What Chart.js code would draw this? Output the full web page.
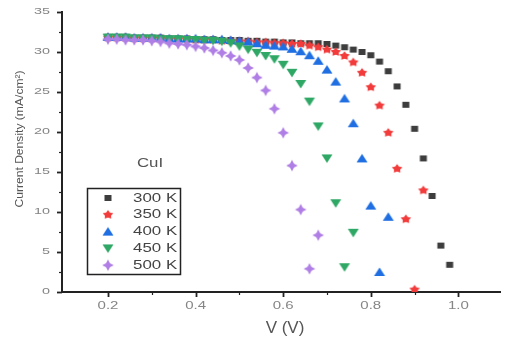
<!DOCTYPE html>
<html>
<head>
<meta charset="utf-8">
<script src="https://cdn.jsdelivr.net/npm/chart.js@4/dist/chart.umd.min.js"></script>
<style>
  html, body { margin: 0; padding: 0; background: #fff; }
  canvas { display: block; }
</style>
</head>
<body>
<canvas id="jv" width="505" height="341"></canvas>
<script>
// values
var voltage = [0.20, 0.22, 0.24, 0.26, 0.28, 0.30, 0.32, 0.34, 0.36, 0.38,
               0.40, 0.42, 0.44, 0.46, 0.48, 0.50, 0.52, 0.54, 0.56, 0.58,
               0.60, 0.62, 0.64, 0.66, 0.68, 0.70, 0.72, 0.74, 0.76, 0.78,
               0.80, 0.82, 0.84, 0.86, 0.88, 0.90, 0.92, 0.94, 0.96, 0.98];
var j300 = [31.9, 31.9, 31.9, 31.8, 31.8, 31.8, 31.8, 31.7, 31.7, 31.7,
            31.6, 31.6, 31.6, 31.5, 31.5, 31.5, 31.4, 31.4, 31.3, 31.3,
            31.2, 31.2, 31.1, 31.1, 31.1, 31.0, 30.8, 30.6, 30.3, 30.0,
            29.6, 28.8, 27.6, 25.7, 23.4, 20.4, 16.7, 12.0, 5.8, 3.4];
var j350 = [31.8, 31.8, 31.8, 31.7, 31.7, 31.7, 31.7, 31.6, 31.6, 31.6,
            31.5, 31.5, 31.5, 31.4, 31.4, 31.3, 31.3, 31.2, 31.2, 31.1,
            31.1, 31.0, 31.0, 30.8, 30.6, 30.3, 30.0, 29.5, 28.7, 27.4,
            25.6, 23.3, 19.9, 15.4, 9.1, 0.3, 12.7];
var j400 = [31.9, 31.9, 31.9, 31.8, 31.8, 31.8, 31.8, 31.7, 31.7, 31.7,
            31.7, 31.6, 31.6, 31.6, 31.5, 31.4, 31.3, 31.1, 30.9, 30.8,
            30.7, 30.4, 30.1, 29.6, 28.9, 27.8, 26.3, 24.2, 21.1, 16.7,
            10.8, 2.5, 9.4];
var j450 = [31.8, 31.8, 31.8, 31.7, 31.7, 31.7, 31.6, 31.6, 31.6, 31.5,
            31.5, 31.4, 31.4, 31.3, 31.1, 30.7, 30.3, 29.9, 29.5, 29.1,
            28.4, 27.4, 26.0, 23.8, 20.7, 16.7, 11.1, 3.1, 7.4];
var j500 = [31.6, 31.6, 31.5, 31.5, 31.5, 31.4, 31.3, 31.1, 31.0, 30.9,
            30.7, 30.5, 30.2, 29.9, 29.5, 29.0, 28.0, 26.8, 25.2, 22.9,
            19.9, 15.8, 10.3, 2.9, 7.1];
var seriesNames = ['300 K', '350 K', '400 K', '450 K', '500 K'];
var xTickLabels = ['0.2', '0.4', '0.6', '0.8', '1.0'];
var yTickLabels = ['0', '5', '10', '15', '20', '25', '30', '35'];

function toPoints(js) {
    return js.map(function(j, i) { return { x: voltage[i], y: j }; });
}

// marker pictures
function marker(color, shape) {
    var c = document.createElement('canvas');
    c.width = 14; c.height = 14;
    var g = c.getContext('2d');
    g.filter = 'blur(0.4px)';
    g.fillStyle = color;
    g.beginPath();
    var i, a, r;
    if (shape == 'square') {
        g.rect(3.5, 4, 7, 6);
    } else if (shape == 'up') {
        g.moveTo(1.5, 11); g.lineTo(12.5, 11); g.lineTo(7, 2.5);
    } else if (shape == 'down') {
        g.moveTo(1.5, 3); g.lineTo(12.5, 3); g.lineTo(7, 11.5);
    } else if (shape == 'star5') {
        for (i = 0; i < 10; i++) {
            a = -Math.PI / 2 + i * Math.PI / 5;
            r = i % 2 ? 3.2 : 5.6;
            g.lineTo(7 + r * Math.cos(a), 7 + r * Math.sin(a) * 0.85);
        }
    } else {
        for (i = 0; i < 8; i++) {
            a = -Math.PI / 2 + i * Math.PI / 4;
            r = i % 2 ? 2.8 : 5.8;
            g.lineTo(7 + r * Math.cos(a), 7 + r * Math.sin(a));
        }
    }
    g.closePath();
    g.fill();
    return c;
}

var markers = [
    marker('#3d3d3d', 'square'),
    marker('#f23b3b', 'star5'),
    marker('#1f6fe3', 'up'),
    marker('#2fa866', 'down'),
    marker('#b07fe6', 'star4')
];
var colors = ['#3d3d3d', '#f23b3b', '#1f6fe3', '#2fa866', '#b07fe6'];
var allJ = [j300, j350, j400, j450, j500];

function stretchedText(ctx, txt, x, y, sx, align) {
    ctx.save();
    ctx.translate(x, y);
    ctx.scale(sx, 1);
    ctx.textAlign = align;
    ctx.fillText(txt, 0, 0);
    ctx.restore();
}

var decorations = {
    id: 'decorations',
    afterDraw: function(chart) {
        var ctx = chart.ctx;
        var xs = chart.scales.x, ys = chart.scales.y;
        var left = chart.chartArea.left, bottom = chart.chartArea.bottom;
        var i, p;
        ctx.save();
        ctx.strokeStyle = '#222';
        // y ticks
        for (i = 0; i <= 14; i++) {
            p = Math.round(ys.getPixelForValue(i * 2.5)) + 0.5;
            ctx.lineWidth = i % 2 ? 1.2 : 1.8;
            ctx.beginPath();
            ctx.moveTo(left, p);
            ctx.lineTo(left - (i % 2 ? 3 : 5), p);
            ctx.stroke();
        }
        // x ticks
        for (i = 2; i <= 10; i++) {
            p = Math.round(xs.getPixelForValue(i / 10)) + 0.5;
            ctx.lineWidth = i % 2 ? 1.2 : 1.8;
            ctx.beginPath();
            ctx.moveTo(p, bottom);
            ctx.lineTo(p, bottom + (i % 2 ? 3 : 5));
            ctx.stroke();
        }
        // tick labels
        ctx.fillStyle = '#858585';
        ctx.textBaseline = 'middle';
        ctx.font = '9px "Liberation Sans", Arial, sans-serif';
        yTickLabels.forEach(function(t) {
            stretchedText(ctx, t, 50, ys.getPixelForValue(parseFloat(t)), 1.6, 'right');
        });
        ctx.font = '10px "Liberation Sans", Arial, sans-serif';
        xTickLabels.forEach(function(t) {
            stretchedText(ctx, t, xs.getPixelForValue(parseFloat(t)), 306, 1.5, 'center');
        });
        // axis titles
        ctx.fillStyle = '#555';
        ctx.font = '17px "Liberation Sans", Arial, sans-serif';
        stretchedText(ctx, 'V (V)', 285, 328, 1.0, 'center');
        ctx.font = '11px "Liberation Sans", Arial, sans-serif';
        ctx.save();
        ctx.translate(20, 139);
        ctx.rotate(-Math.PI / 2);
        stretchedText(ctx, 'Current Density (mA/cm\u00b2)', 0, 0, 1.1, 'center');
        ctx.restore();
        // sample label
        ctx.fillStyle = '#555';
        ctx.font = '12px "Liberation Sans", Arial, sans-serif';
        stretchedText(ctx, 'CuI', 150, 164, 1.4, 'center');
        // legend
        ctx.lineWidth = 1.5;
        ctx.strokeStyle = '#222';
        ctx.strokeRect(87.5, 188.5, 93, 86);
        ctx.font = '13px "Liberation Sans", Arial, sans-serif';
        ctx.fillStyle = '#444';
        seriesNames.forEach(function(name, k) {
            var yy = 198 + k * 16.8;
            ctx.drawImage(markers[k], 108 - 7, yy - 7);
            stretchedText(ctx, name, 133, yy, 1.3, 'left');
        });
        ctx.restore();
    }
};

var datasets = allJ.map(function(js, k) {
    return {
        label: seriesNames[k],
        data: toPoints(js),
        pointStyle: markers[k],
        backgroundColor: colors[k],
        borderColor: colors[k],
        showLine: false,
        order: 5 - k
    };
});

var chart = new Chart(document.getElementById('jv'), {
    type: 'scatter',
    data: { datasets: datasets },
    options: {
        responsive: false,
        animation: false,
        devicePixelRatio: 1,
        layout: { padding: { top: 12, right: 1, left: 0, bottom: 0 } },
        plugins: { legend: { display: false }, tooltip: { enabled: false } },
        scales: {
            x: {
                type: 'linear',
                min: 0.095,
                max: 1.095,
                grid: { display: true, drawOnChartArea: false, drawTicks: false },
                border: { display: true, width: 2, color: '#222' },
                ticks: { display: false },
                afterFit: function(s) { s.height = 49; }
            },
            y: {
                type: 'linear',
                min: 0,
                max: 35,
                grid: { display: true, drawOnChartArea: false, drawTicks: false },
                border: { display: true, width: 2, color: '#222' },
                ticks: { display: false },
                afterFit: function(s) { s.width = 62; }
            }
        }
    },
    plugins: [decorations]
});
</script>
</body>
</html>
